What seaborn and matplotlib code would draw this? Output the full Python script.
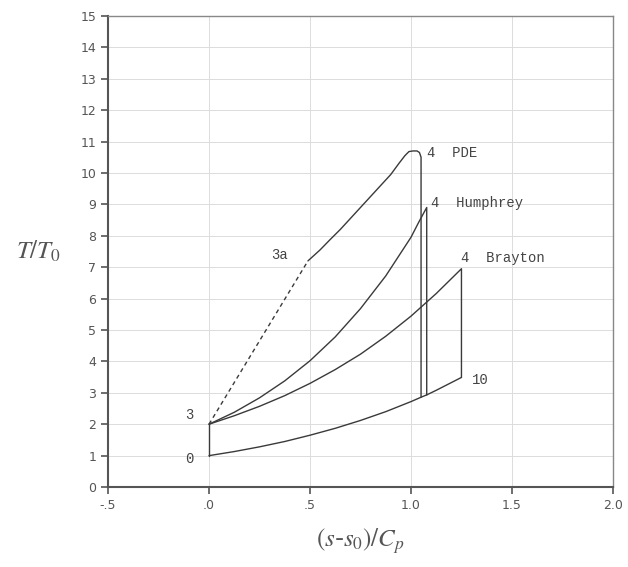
import numpy as np
import pandas as pd
import matplotlib
matplotlib.use("Agg")
import matplotlib.pyplot as plt
import seaborn as sns

# 0 -> 10 (constant pressure, low)
s_low = [0.0, 0.125, 0.25, 0.375, 0.5, 0.625, 0.75, 0.875, 1.0, 1.05, 1.08, 1.125, 1.25]
t_low = [1.0, 1.13, 1.28, 1.45, 1.65, 1.87, 2.12, 2.4, 2.72, 2.86, 2.94, 3.08, 3.49]

# 3 -> 4 Brayton, then down to 10
s_bray = [0.0, 0.125, 0.25, 0.375, 0.5, 0.625, 0.75, 0.875, 1.0, 1.125, 1.25, 1.25]
t_bray = [2.0, 2.27, 2.57, 2.91, 3.3, 3.74, 4.23, 4.8, 5.44, 6.16, 6.95, 3.49]

# 3 -> 4 Humphrey, then down
s_hum = [0.0, 0.125, 0.25, 0.375, 0.5, 0.625, 0.75, 0.875, 1.0, 1.04, 1.078, 1.078]
t_hum = [2.0, 2.38, 2.84, 3.38, 4.02, 4.78, 5.68, 6.72, 7.95, 8.45, 8.9, 2.93]

# 3 -> 3a (dashed) and 3a -> 4 PDE, then down
s_shock = [0.0, 0.49]
t_shock = [2.0, 7.2]
s_pde = [0.49, 0.55, 0.6, 0.65, 0.7, 0.75, 0.8, 0.85, 0.9, 0.94, 0.97, 0.99,
         1.01, 1.03, 1.042, 1.05, 1.05]
t_pde = [7.2, 7.55, 7.88, 8.2, 8.55, 8.9, 9.25, 9.6, 9.95, 10.3, 10.55, 10.68,
         10.7, 10.7, 10.65, 10.5, 2.86]

# 0 -> 3
s_comp = [0.0, 0.0]
t_comp = [1.0, 2.0]

x_ticks = [-0.5, 0.0, 0.5, 1.0, 1.5, 2.0]
x_ticklabels = ["-.5", ".0", ".5", "1.0", "1.5", "2.0"]
y_ticks = list(range(0, 16))

labels = [
    ("4  PDE", 1.08, 10.65),
    ("4  Humphrey", 1.10, 9.05),
    ("4  Brayton", 1.25, 7.3),
    ("10", 1.30, 3.4),
    ("3a", 0.31, 7.4),
    ("3", -0.12, 2.3),
    ("0", -0.12, 0.9),
]

sns.set_style("white")
plt.rcParams["mathtext.fontset"] = "stix"

fig = plt.figure(figsize=(6.28, 5.67), dpi=100)
ax = fig.add_axes([0.172, 0.141, 0.804, 0.831])

line_kw = dict(color="#3a3a3a", linewidth=1.0, sort=False, estimator=None, ax=ax)
for s, t in [(s_low, t_low), (s_bray, t_bray), (s_hum, t_hum),
             (s_pde, t_pde), (s_comp, t_comp)]:
    sns.lineplot(x=s, y=t, **line_kw)
sns.lineplot(x=s_shock, y=t_shock, linestyle=(0, (3, 2.5)), **line_kw)

for txt, x, y in labels:
    ax.text(x, y, txt, fontsize=10, family="Liberation Mono",
            color="#444444", va="center", ha="left")

ax.set_xlim(-0.5, 2.0)
ax.set_ylim(0, 15)
ax.set_xticks(x_ticks)
ax.set_xticklabels(x_ticklabels)
ax.set_yticks(y_ticks)
ax.grid(True, color="#dcdcdc", linewidth=0.7)
ax.tick_params(axis="both", which="major", direction="out", length=5,
               width=1.2, color="#555555", labelsize=9, labelcolor="#555555",
               left=True, bottom=True)

for side in ["left", "bottom"]:
    ax.spines[side].set_color("#555555")
    ax.spines[side].set_linewidth(1.5)
for side in ["top", "right"]:
    ax.spines[side].set_color("#888888")
    ax.spines[side].set_linewidth(1.0)

ax.set_xlabel(r"$(s$-$s_0)/C_p$", fontsize=18, color="#555555", labelpad=10)
ax.set_ylabel(r"$T/T_0$", fontsize=18, color="#555555", rotation=0,
              labelpad=30, va="center")

plt.savefig("out.png", dpi=100)
